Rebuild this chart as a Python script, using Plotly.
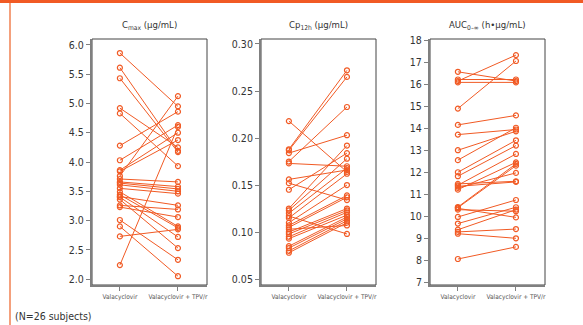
import plotly.graph_objects as go

W, H = 583, 325
categories = ["Valacyclovir", "Valacyclovir + TPV/r"]

cmax_val = [5.86, 5.61, 5.43, 4.92, 4.83, 4.28, 4.03, 3.86, 3.84, 3.76, 3.71, 3.66, 3.64,
            3.61, 3.55, 3.49, 3.44, 3.41, 3.40, 3.36, 3.26, 3.23, 3.01, 2.90, 2.73, 2.24]
cmax_tpv = [4.95, 4.19, 4.17, 4.25, 3.93, 4.86, 4.63, 4.50, 4.375, 5.125, 3.66, 3.58, 3.54,
            3.50, 3.46, 2.90, 2.875, 3.26, 2.72, 2.53, 3.19, 3.06, 2.33, 2.05, 2.85, 4.60]

cp_val = [0.218, 0.188, 0.187, 0.184, 0.175, 0.173, 0.156, 0.152, 0.145, 0.125, 0.123, 0.120, 0.117,
          0.115, 0.110, 0.107, 0.105, 0.103, 0.100, 0.098, 0.095, 0.093, 0.085, 0.083, 0.080, 0.078]
cp_tpv = [0.164, 0.272, 0.265, 0.203, 0.233, 0.170, 0.166, 0.134, 0.184, 0.192, 0.178, 0.168, 0.098,
          0.162, 0.150, 0.139, 0.137, 0.107, 0.125, 0.123, 0.121, 0.118, 0.116, 0.114, 0.112, 0.110]

auc_val = [16.56, 16.21, 16.14, 16.08, 14.89, 14.15, 13.71, 13.00, 12.55, 12.00, 11.82, 11.47, 11.41,
           11.36, 11.29, 11.21, 10.42, 10.39, 10.36, 10.30, 9.97, 9.67, 9.39, 9.29, 9.21, 8.06]
auc_tpv = [16.14, 16.21, 17.32, 16.08, 17.05, 14.58, 13.94, 13.86, 14.02, 13.45, 13.21, 11.59, 12.83,
           11.56, 11.97, 12.45, 12.38, 12.30, 9.95, 10.23, 10.74, 10.41, 10.30, 9.42, 9.00, 8.61]

titles = ["C<sub>max</sub> (μg/mL)", "Cp<sub>12h</sub> (μg/mL)", "AUC<sub>0–∞</sub> (h•μg/mL)"]
y_ticks = [[2.0, 2.5, 3.0, 3.5, 4.0, 4.5, 5.0, 5.5, 6.0],
           [0.05, 0.10, 0.15, 0.20, 0.25, 0.30],
           list(range(7, 19))]
y_ranges = [[1.9, 6.1], [0.0437, 0.3053], [6.88, 18.05]]
y_formats = [".1f", ".2f", "d"]
footnote = "(N=26 subjects)"

ORANGE = "#f15a24"
FONT = "Liberation Sans Narrow, DejaVu Sans Condensed, Roboto Condensed, Liberation Sans, sans-serif"

panels_px = [(92, 207), (261, 376), (430, 545)]
top_px, bot_px = 39, 285
ydom = [(H - bot_px) / H, (H - top_px) / H]

fig = go.Figure()
data = [(cmax_val, cmax_tpv), (cp_val, cp_tpv), (auc_val, auc_tpv)]
for i, (a, b) in enumerate(data):
    xs, ys = [], []
    for va, vb in zip(a, b):
        xs += [categories[0], categories[1], None]
        ys += [va, vb, None]
    ax = "" if i == 0 else str(i + 1)
    fig.add_trace(go.Scatter(
        x=xs, y=ys, mode="lines+markers", xaxis="x" + ax, yaxis="y" + ax,
        line=dict(color=ORANGE, width=1),
        marker=dict(symbol="circle-open", size=5, color=ORANGE, line=dict(width=1.2)),
        showlegend=False, hoverinfo="skip", connectgaps=False))

layout = dict(width=W, height=H, margin=dict(l=0, r=0, t=0, b=0),
              plot_bgcolor="white", paper_bgcolor="white", showlegend=False,
              font=dict(family=FONT, color="#333"))
shapes = []
annotations = []
for i, (x0, x1) in enumerate(panels_px):
    ax = "" if i == 0 else str(i + 1)
    layout["xaxis" + ax] = dict(
        domain=[x0 / W, x1 / W], anchor="y" + ax, type="category",
        categoryorder="array", categoryarray=categories,
        range=[-0.48, 1.5], showgrid=False, zeroline=False,
        showline=True, linecolor="#808080", linewidth=2,
        ticks="outside", ticklen=4, tickcolor="#808080", tickwidth=1,
        tickfont=dict(size=6.5, color="#555", family=FONT), automargin=False)
    layout["yaxis" + ax] = dict(
        domain=ydom, anchor="x" + ax, range=y_ranges[i],
        tickvals=y_ticks[i], tickformat=y_formats[i], showgrid=False, zeroline=False,
        showline=True, linecolor="#808080", linewidth=2,
        ticks="outside", ticklen=4, tickcolor="#808080", tickwidth=1,
        tickfont=dict(size=10.5, color="#333", family=FONT), automargin=False)
    shapes.append(dict(type="rect", xref="x" + ax + " domain", yref="y" + ax + " domain",
                       x0=0, x1=1, y0=0, y1=1, line=dict(color="#444", width=1), layer="below"))
    annotations.append(dict(text=titles[i], xref="paper", yref="paper",
                            x=(x0 + x1) / 2 / W, y=(H - 26) / H, xanchor="center", yanchor="middle",
                            showarrow=False, font=dict(size=9.5, color="#333", family=FONT)))

annotations.append(dict(text=footnote, xref="paper", yref="paper", x=13 / W, y=(H - 316) / H,
                        xanchor="left", yanchor="middle", showarrow=False,
                        font=dict(size=10.5, color="#333", family=FONT)))
# orange frame: top bar and left rule
shapes.append(dict(type="rect", xref="paper", yref="paper", x0=0, x1=1, y0=(H - 3) / H, y1=1,
                   fillcolor=ORANGE, line=dict(width=0)))
shapes.append(dict(type="line", xref="paper", yref="paper", x0=10 / W, x1=10 / W, y0=0, y1=(H - 3) / H,
                   line=dict(color="#f4a07c", width=2)))
layout["shapes"] = shapes
layout["annotations"] = annotations
fig.update_layout(**layout)
fig.write_html("out.html", config={"displayModeBar": False},
               post_script="document.body.style.margin='0';document.body.style.overflow='hidden';")
